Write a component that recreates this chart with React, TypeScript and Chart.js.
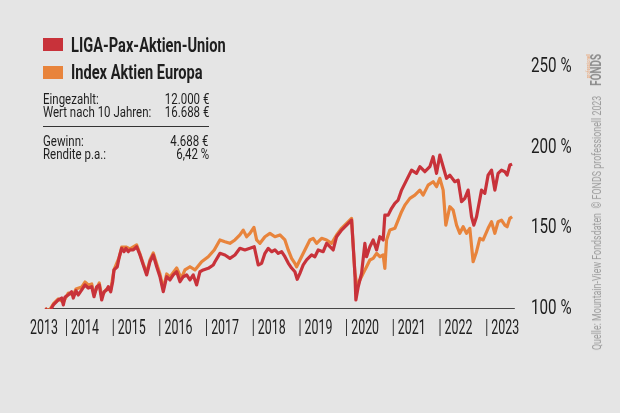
import React, { useEffect, useRef } from 'react';
import { Chart, registerables } from 'chart.js';
Chart.register(...registerables);

const RED = '#c8323a';
const ORANGE = '#e8843c';
const BG = '#e5e5e5';
const TEXT = '#1e1e1e';
const FONT = 'Roboto, "Liberation Sans", sans-serif';
const X_CONDENSE = 0.62;
const Y_CONDENSE = 0.76;

const ligaYears = [2013.572, 2013.657, 2013.749, 2013.857, 2013.929, 2013.964, 2014.0, 2014.071, 2014.143, 2014.178, 2014.236, 2014.285, 2014.358, 2014.428, 2014.499, 2014.572, 2014.621, 2014.679, 2014.734, 2014.786, 2014.835, 2014.893, 2014.927, 2014.979, 2015.021, 2015.049, 2015.12, 2015.163, 2015.214, 2015.263, 2015.306, 2015.355, 2015.392, 2015.463, 2015.535, 2015.606, 2015.677, 2015.749, 2015.82, 2015.891, 2015.964, 2016.034, 2016.105, 2016.178, 2016.248, 2016.319, 2016.392, 2016.463, 2016.533, 2016.606, 2016.677, 2016.747, 2016.82, 2016.891, 2016.961, 2017.069, 2017.176, 2017.212, 2017.319, 2017.426, 2017.533, 2017.64, 2017.747, 2017.854, 2017.961, 2018.054, 2018.139, 2018.212, 2018.283, 2018.353, 2018.426, 2018.497, 2018.567, 2018.64, 2018.711, 2018.782, 2018.854, 2018.925, 2018.974, 2019.032, 2019.103, 2019.176, 2019.283, 2019.353, 2019.424, 2019.531, 2019.604, 2019.675, 2019.745, 2019.818, 2019.925, 2020.032, 2020.139, 2020.21, 2020.231, 2020.281, 2020.353, 2020.424, 2020.46, 2020.531, 2020.602, 2020.675, 2020.745, 2020.816, 2020.852, 2020.923, 2020.996, 2021.066, 2021.137, 2021.21, 2021.317, 2021.424, 2021.531, 2021.602, 2021.709, 2021.816, 2021.886, 2021.959, 2022.03, 2022.101, 2022.173, 2022.244, 2022.351, 2022.422, 2022.495, 2022.565, 2022.636, 2022.709, 2022.758, 2022.816, 2022.923, 2022.994, 2023.064, 2023.137, 2023.208, 2023.278, 2023.351, 2023.422, 2023.471, 2023.529, 2023.578];
const ligaValues = [100.4, 97.7, 102.5, 105.6, 106.8, 102.5, 107.4, 108.7, 110.7, 106.8, 111.3, 108.7, 111.8, 114.9, 113.0, 113.8, 107.6, 113.8, 114.9, 105.6, 110.7, 111.8, 113.8, 110.7, 116.9, 124.2, 126.2, 132.4, 137.6, 135.5, 137.6, 135.5, 136.6, 136.6, 138.6, 133.5, 127.3, 121.1, 129.3, 133.5, 126.2, 120.0, 110.7, 120.0, 118.0, 121.1, 123.1, 116.9, 120.0, 121.1, 118.0, 121.1, 114.9, 123.1, 124.2, 125.2, 127.3, 129.3, 134.5, 133.5, 131.4, 133.5, 137.6, 136.6, 137.6, 138.6, 127.3, 128.3, 134.5, 137.6, 135.5, 136.6, 134.5, 135.5, 132.4, 128.5, 125.4, 123.1, 118.4, 122.1, 127.3, 130.4, 133.5, 132.4, 136.6, 135.5, 140.7, 138.6, 136.6, 144.8, 148.9, 152.0, 155.1, 122.1, 105.6, 113.8, 122.1, 140.7, 132.4, 138.6, 142.8, 136.6, 144.8, 142.8, 158.2, 158.2, 162.4, 165.5, 167.5, 173.7, 179.9, 186.1, 184.1, 188.2, 185.1, 188.2, 194.4, 184.1, 195.4, 188.2, 181.0, 183.0, 178.9, 179.9, 166.5, 168.6, 173.7, 157.2, 152.0, 157.2, 173.7, 171.7, 183.0, 186.1, 173.7, 184.1, 186.1, 185.1, 183.0, 189.2, 189.8];

const indexYears = [2013.572, 2013.657, 2013.749, 2013.857, 2013.964, 2014.071, 2014.178, 2014.236, 2014.358, 2014.428, 2014.499, 2014.572, 2014.621, 2014.734, 2014.786, 2014.893, 2014.979, 2015.049, 2015.163, 2015.214, 2015.306, 2015.392, 2015.535, 2015.606, 2015.677, 2015.749, 2015.82, 2015.891, 2015.964, 2016.034, 2016.105, 2016.178, 2016.248, 2016.392, 2016.49, 2016.57, 2016.677, 2016.784, 2016.927, 2017.069, 2017.197, 2017.319, 2017.426, 2017.533, 2017.64, 2017.747, 2017.818, 2017.891, 2017.961, 2018.047, 2018.105, 2018.176, 2018.283, 2018.39, 2018.497, 2018.604, 2018.711, 2018.782, 2018.854, 2018.925, 2018.961, 2019.032, 2019.139, 2019.246, 2019.317, 2019.39, 2019.497, 2019.604, 2019.711, 2019.818, 2019.925, 2020.032, 2020.139, 2020.21, 2020.259, 2020.317, 2020.388, 2020.46, 2020.531, 2020.602, 2020.675, 2020.745, 2020.816, 2020.852, 2020.888, 2020.959, 2021.066, 2021.137, 2021.21, 2021.281, 2021.388, 2021.495, 2021.602, 2021.672, 2021.779, 2021.886, 2021.959, 2022.03, 2022.101, 2022.158, 2022.244, 2022.315, 2022.388, 2022.458, 2022.529, 2022.601, 2022.672, 2022.743, 2022.816, 2022.887, 2022.957, 2023.064, 2023.137, 2023.208, 2023.278, 2023.351, 2023.422, 2023.471, 2023.529, 2023.578];
const indexValues = [100.4, 98.8, 103.1, 106.2, 104.3, 109.9, 108.7, 112.4, 113.6, 116.7, 114.9, 115.5, 109.3, 116.1, 108.1, 112.4, 111.8, 124.2, 132.2, 138.4, 138.4, 137.2, 139.7, 134.1, 127.9, 122.3, 130.4, 134.7, 127.9, 121.7, 112.4, 121.7, 119.8, 125.4, 119.0, 124.2, 126.2, 124.2, 129.3, 132.4, 136.6, 142.8, 141.7, 140.7, 142.8, 145.9, 148.9, 144.8, 146.9, 150.6, 142.8, 140.7, 144.8, 146.9, 144.8, 145.9, 142.8, 136.6, 131.4, 128.3, 126.2, 130.4, 136.6, 142.8, 143.8, 140.7, 143.8, 142.8, 140.7, 145.9, 150.0, 153.1, 156.2, 122.1, 113.8, 118.0, 122.1, 126.2, 130.4, 131.4, 134.5, 132.4, 133.5, 125.2, 142.8, 148.9, 150.0, 155.1, 160.3, 164.4, 168.6, 170.6, 173.7, 170.6, 176.8, 178.9, 175.8, 181.0, 173.7, 152.0, 163.4, 161.3, 152.0, 146.9, 151.0, 146.9, 150.0, 129.3, 135.5, 143.8, 142.8, 150.0, 154.1, 146.9, 154.1, 155.1, 152.0, 151.0, 156.2, 157.2];

const baselineYears = [2013.572, 2023.636];
const baselineValues = [100, 100];

const xTickValues = [2013.25, 2014, 2015, 2016, 2017, 2018, 2019, 2020, 2021, 2022, 2023];
const xTickLabels = ['2013', '| 2014', '| 2015', '| 2016', '| 2017', '| 2018', '| 2019', '| 2020', '| 2021', '| 2022', '| 2023'];
const yTickValues = [100, 150, 200, 250];

const seriesNames = ['LIGA-Pax-Aktien-Union', 'Index Aktien Europa'];
const tableRows1 = [['Eingezahlt:', '12.000 €'], ['Wert nach 10 Jahren:', '16.688 €']];
const tableRows2 = [['Gewinn:', '4.688 €'], ['Rendite p.a.:', '6,42 %']];

const pts = (xs: number[], ys: number[]) => xs.map((x, i) => ({ x, y: ys[i] }));

// Redraws the axes' own label items horizontally condensed (no condensed font is installed).
const condensedLabels = {
  id: 'condensedLabels',
  afterDraw(chart: any) {
    const ctx = chart.ctx;
    for (const id of ['x', 'y']) {
      const scale = chart.scales[id];
      const f = id === 'x' ? X_CONDENSE : Y_CONDENSE;
      const items = scale.getLabelItems();
      for (const it of items) {
        ctx.save();
        ctx.font = it.font.string;
        ctx.fillStyle = TEXT;
        ctx.textAlign = it.options.textAlign;
        ctx.textBaseline = it.options.textBaseline;
        ctx.translate(it.options.translation[0], it.options.translation[1]);
        ctx.scale(f, 1);
        const label = Array.isArray(it.label) ? it.label[0] : it.label;
        ctx.fillText(String(label), 0, it.textOffset);
        ctx.restore();
      }
    }
  },
};

export default function App() {
  const ref = useRef<HTMLCanvasElement>(null);
  useEffect(() => {
    if (!ref.current) return;
    const chart = new Chart(ref.current, {
      type: 'line',
      data: {
        datasets: [
          { label: seriesNames[0], data: pts(ligaYears, ligaValues), borderColor: RED, borderWidth: 3.2, pointRadius: 0, tension: 0, borderJoinStyle: 'round' },
          { label: seriesNames[1], data: pts(indexYears, indexValues), borderColor: ORANGE, borderWidth: 3.2, pointRadius: 0, tension: 0, borderJoinStyle: 'round' },
          { label: 'base', data: pts(baselineYears, baselineValues), borderColor: '#111', borderWidth: 1.5, pointRadius: 0 },
        ],
      },
      options: {
        responsive: false,
        animation: false,
        layout: { padding: { left: 30, top: 67, right: 0, bottom: 0 } },
        plugins: { legend: { display: false }, tooltip: { enabled: false } },
        scales: {
          x: {
            type: 'linear',
            min: 2013.25,
            max: 2023.64,
            grid: { display: false, drawTicks: false },
            border: { display: false },
            afterBuildTicks: (s: any) => { s.ticks = xTickValues.map((v) => ({ value: v })); },
            afterFit: (s: any) => { s.height = 104; },
            ticks: {
              autoSkip: false,
              maxRotation: 0,
              align: 'start',
              padding: 8,
              color: 'rgba(0,0,0,0)',
              font: { family: FONT, size: 20 },
              callback: (_v: any, i: number) => xTickLabels[i],
            },
          },
          y: {
            position: 'right',
            min: 100,
            max: 250,
            grid: { display: false, drawTicks: false },
            border: { display: false },
            afterBuildTicks: (s: any) => { s.ticks = yTickValues.map((v) => ({ value: v })); },
            afterFit: (s: any) => { s.width = 105; },
            ticks: {
              padding: 16,
              color: 'rgba(0,0,0,0)',
              font: { family: FONT, size: 20 },
              callback: (v: any) => v + ' %',
            },
          },
        },
      },
      plugins: [condensedLabels],
    } as any);
    return () => chart.destroy();
  }, []);

  const cell = { position: 'absolute' as const, fontSize: 14, lineHeight: '13px', color: TEXT, whiteSpace: 'nowrap' as const };
  const left = { ...cell, left: 43, transform: 'scaleX(0.82)', transformOrigin: 'left center' };
  const right = { ...cell, right: 620 - 209, transform: 'scaleX(0.82)', transformOrigin: 'right center' };
  return (
    <div style={{ position: 'absolute', left: 0, top: 0, width: 620, height: 413, background: BG, fontFamily: FONT, overflow: 'hidden' }}>
      <canvas ref={ref} width={620} height={413} style={{ position: 'absolute', left: 0, top: 0 }} />
      {[RED, ORANGE].map((c, i) => (
        <React.Fragment key={i}>
          <div style={{ position: 'absolute', left: 43, top: 38 + i * 27.5, width: 20, height: 13, background: c }} />
          <div style={{ position: 'absolute', left: 71, top: 35.5 + i * 27.5, fontSize: 19.5, lineHeight: '19px', fontWeight: 'bold', color: TEXT, whiteSpace: 'nowrap', transform: 'scaleX(0.75)', transformOrigin: 'left center' }}>{seriesNames[i]}</div>
        </React.Fragment>
      ))}
      {tableRows1.map((r, i) => (
        <React.Fragment key={'a' + i}>
          <div style={{ ...left, top: 92.5 + i * 13.5 }}>{r[0]}</div>
          <div style={{ ...right, top: 92.5 + i * 13.5 }}>{r[1]}</div>
        </React.Fragment>
      ))}
      <div style={{ position: 'absolute', left: 43, top: 126, width: 166, height: 1, background: '#333' }} />
      {tableRows2.map((r, i) => (
        <React.Fragment key={'b' + i}>
          <div style={{ ...left, top: 134.5 + i * 13.5 }}>{r[0]}</div>
          <div style={{ ...right, top: 134.5 + i * 13.5 }}>{r[1]}</div>
        </React.Fragment>
      ))}
      <div style={{ position: 'absolute', left: 596, top: 202, transform: 'translate(-50%, -50%) rotate(-90deg) scaleX(0.71)', whiteSpace: 'nowrap', display: 'flex', alignItems: 'center' }}>
        <span style={{ fontSize: 12.5, color: '#9c9c9c' }}>Quelle: Mountain-View Fondsdaten&nbsp;&nbsp;©&nbsp;FONDS professionell 2023</span>
        <span style={{ marginLeft: 14, fontSize: 14, fontWeight: 'bold', color: '#8c8c8c', position: 'relative' }}>
          FONDS
          <span style={{ position: 'absolute', right: 0, top: -4, fontSize: 6, fontWeight: 'normal', color: '#e8a070' }}>professionell</span>
        </span>
      </div>
    </div>
  );
}
